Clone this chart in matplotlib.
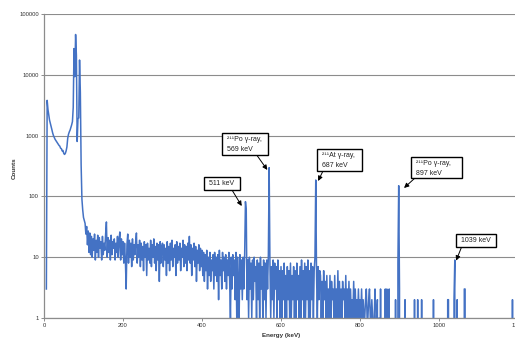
import numpy as np
import matplotlib
matplotlib.use("Agg")
import matplotlib.pyplot as plt
from matplotlib.patches import Rectangle
from matplotlib.transforms import offset_copy
from matplotlib.ticker import NullLocator

plt.rcParams['font.family'] = ['Liberation Sans', 'DejaVu Sans']

nan = np.nan
# ---- spectrum data (2 keV bins); 0 = empty bin ----
start_0, counts_0_98 = 0, [
    nan, nan, nan, 3, 3800, 2700, 2200, 1800, 1600, 1400,
    1250, 1100, 1000, 930, 870, 830, 790, 750, 720, 690,
    670, 620, 610, 560, 570, 510, 490, 510, 560, 650,
    900, 1050, 1150, 1230, 1350, 1500, 1700, 2900, 27000, 9300,
    46000, 21000, 800, 1900, 1950, 17500, 5200, 330, 90, 60]
start_100, counts_100_198 = 100, [
    45, 40, 36, 24, 32, 16, 27, 12, 25, 11,
    22, 10, 20, 13, 24, 9, 19, 12, 23, 10,
    21, 14, 18, 9, 22, 11, 17, 13, 24, 38,
    10, 21, 12, 19, 9, 23, 11, 18, 14, 20,
    9, 17, 12, 22, 10, 19, 26, 9, 20, 11]
start_200, counts_200_298 = 200, [
    18, 8, 17, 9, 3, 16, 24, 8, 19, 10,
    17, 7, 20, 9, 16, 11, 18, 25, 8, 16,
    10, 19, 7, 17, 9, 15, 6, 18, 10, 16,
    5, 17, 9, 14, 8, 19, 7, 16, 10, 20,
    8, 15, 6, 17, 9, 16, 4, 18, 8, 15]
start_300, counts_300_398 = 300, [
    17, 7, 16, 9, 14, 5, 18, 8, 15, 6,
    17, 9, 19, 7, 14, 10, 16, 5, 18, 8,
    15, 9, 17, 6, 14, 10, 19, 7, 16, 8,
    15, 6, 17, 9, 22, 8, 16, 5, 14, 9,
    17, 7, 15, 4, 13, 8, 16, 6, 14, 7]
start_400, counts_400_498 = 400, [
    13, 5, 12, 4, 11, 6, 13, 3, 10, 5,
    12, 4, 9, 6, 11, 3, 12, 5, 10, 4,
    11, 2, 13, 5, 9, 3, 12, 6, 10, 4,
    11, 3, 9, 5, 12, 4, 1, 10, 3, 11,
    5, 9, 2, 12, 1, 10, 4, 1, 11, 3]
start_500, counts_500_598 = 500, [
    9, 2, 10, 3, 11, 82, 60, 2, 9, 1,
    10, 3, 8, 1, 9, 2, 10, 4, 7, 1,
    9, 2, 8, 1, 10, 3, 7, 1, 9, 2,
    8, 1, 9, 3, 11, 297, 8, 1, 7, 2,
    9, 1, 8, 3, 7, 1, 9, 2, 6, 1]
start_600, counts_600_698 = 600, [
    7, 1, 6, 2, 8, 1, 5, 1, 7, 2,
    6, 1, 8, 1, 5, 2, 7, 1, 6, 1,
    8, 2, 5, 1, 7, 1, 9, 2, 6, 1,
    8, 1, 7, 2, 9, 1, 6, 1, 8, 2,
    7, 1, 6, 10, 186, 5, 1, 7, 2, 6]
start_700, counts_700_798 = 700, [
    5, 1, 4, 1, 6, 2, 4, 1, 5, 1,
    3, 1, 5, 1, 4, 2, 3, 1, 5, 1,
    3, 1, 6, 1, 4, 1, 3, 1, 4, 2,
    3, 1, 5, 1, 3, 1, 4, 1, 3, 1,
    2, 1, 4, 1, 3, 1, 2, 1, 3, 1]
start_800, counts_800_898 = 800, [
    2, 1, 3, 1, 2, 1, 1, 2, 3, 1,
    1, 2, 3, 1, 1, 2, 1, 0, 1, 3,
    0, 1, 2, 0, 1, 0, 3, 0, 0, 0,
    0, 0, 3, 0, 3, 0, 0, 3, 0, 0,
    0, 0, 0, 0, 0, 2, 0, 0, 8, 150]
start_900, counts_900_1198 = 900, [
    3, 0, 0, 0, 0, 0, 0, 2, 0, 0,
    0, 0, 0, 0, 0, 0, 0, 0, 0, 2,
    0, 0, 0, 2, 0, 0, 0, 0, 2, 0,
    0, 0, 0, 0, 0, 0, 0, 0, 0, 0,
    0, 0, 0, 2, 0, 0, 0, 0, 0, 0,
    0, 0, 0, 0, 0, 0, 0, 0, 0, 0,
    0, 2, 2, 0, 0, 0, 0, 0, 0, 2,
    9, 0, 0, 2, 0, 0, 0, 0, 0, 0,
    0, 0, 3, 3, 0, 0, 0, 0, 0, 0,
    0, 0, 0, 0, 0, 0, 0, 0, 0, 0,
    0, 0, 0, 0, 0, 0, 0, 0, 0, 0,
    0, 0, 0, 0, 0, 0, 0, 0, 0, 0,
    0, 0, 0, 0, 0, 0, 0, 0, 0, 0,
    0, 0, 0, 0, 0, 0, 0, 0, 0, 0,
    0, 0, 0, 2, 0, 0, 0, 0, 0, 0]
bin_width = 2

x_ticks = [0, 200, 400, 600, 800, 1000, 1200]
x_tick_labels = ["0", "200", "400", "600", "800", "1000", "1200"]
y_ticks = [1, 10, 100, 1000, 10000, 100000]
y_tick_labels = ["1", "10", "100", "1000", "10000", "100000"]

peak_energies = [510, 570, 688, 898, 1040]
peak_labels = ["511 keV", "\u00b2\u00b9\u00b9Po \u03b3-ray,\n569 keV",
               "\u00b2\u00b9\u00b9At \u03b3-ray,\n687 keV",
               "\u00b2\u00b9\u00b9Po \u03b3-ray,\n897 keV", "1039 keV"]

segments = [(start_0, counts_0_98), (start_100, counts_100_198),
            (start_200, counts_200_298), (start_300, counts_300_398),
            (start_400, counts_400_498), (start_500, counts_500_598),
            (start_600, counts_600_698), (start_700, counts_700_798),
            (start_800, counts_800_898), (start_900, counts_900_1198)]
energies = np.concatenate([s + bin_width * np.arange(len(v)) for s, v in segments])
counts = np.concatenate([np.asarray(v, float) for s, v in segments])

W, H = 515, 338
fig = plt.figure(figsize=(W / 100, H / 100), dpi=100)
fig.patch.set_facecolor('white')
ax = fig.add_axes([44 / W, 20 / H, 474 / W, 304 / H])

ax.plot(energies, counts, color='#4472C4', lw=1.1, zorder=2)
ax.set_yscale('log', nonpositive='clip')
ax.set_ylim(1, 100000)
ax.set_xlim(0, 1200)
ax.set_yticks(y_ticks)
ax.set_yticklabels(y_tick_labels)
ax.yaxis.set_minor_locator(NullLocator())
ax.set_xticks(x_ticks)
ax.set_xticklabels(x_tick_labels)

gray = '#8c8c8c'
ax.grid(axis='y', color=gray, lw=0.8)
ax.set_axisbelow(True)
for s in ['top', 'right']:
    ax.spines[s].set_visible(False)
for s in ['left', 'bottom']:
    ax.spines[s].set_color(gray)
    ax.spines[s].set_linewidth(0.9)
    ax.spines[s].set_zorder(3)
ax.tick_params(axis='both', direction='out', length=2.2, width=0.7, color=gray,
               labelsize=4.2, labelcolor='#333333', pad=1.5)

fig.text(14.5 / W, 1 - 168 / H, "Counts", rotation=90, ha='center', va='center',
         fontsize=4.5, fontweight='bold', color='#333333')
fig.text(281.5 / W, 1 - 335.5 / H, "Energy (keV)", ha='center', va='center',
         fontsize=4.5, fontweight='bold', color='#333333')

def fpx(x, y):
    return (x / W, 1 - y / H)

# annotation layout (pixel boxes, arrow starts, tip offsets)
boxes = [(204, 177, 240, 190), (222, 133, 268, 155), (316.7, 149, 362, 171),
         (411, 156.7, 462, 178), (456, 234, 495.7, 246.7)]
arrow_starts = [(232, 190), (256.7, 155), (323, 171), (415, 178), (461.7, 246.7)]
tip_offsets = [(-3.7, -4.4), (-1.8, -2.3), (2.3, -1.0), (5.3, -2.3), (1.3, -0.7)]

for E, label, box, st, off in zip(peak_energies, peak_labels, boxes, arrow_starts, tip_offsets):
    c = counts[np.argmin(np.abs(energies - E))]
    tr = offset_copy(ax.transData, fig=fig, x=off[0], y=off[1], units='dots')
    ax.annotate('', xy=(E, c), xycoords=tr, xytext=fpx(*st), textcoords='figure fraction',
                arrowprops=dict(arrowstyle='-|>,head_length=0.35,head_width=0.17',
                                color='black', lw=0.7, shrinkA=0, shrinkB=0,
                                mutation_scale=8), zorder=4)
    x0, y0, x1, y1 = box
    rect = Rectangle(fpx(x0, y1), (x1 - x0) / W, (y1 - y0) / H, transform=fig.transFigure,
                     facecolor='white', edgecolor='black', lw=1.0, zorder=5)
    fig.add_artist(rect)
    lines = label.split('\n')
    if len(lines) == 1:
        fig.text(*fpx((x0 + x1) / 2, (y0 + y1) / 2), label, ha='center', va='center',
                 fontsize=5, color='#222222', zorder=6)
    else:
        h = y1 - y0
        fig.text(*fpx(x0 + 5, y0 + 0.3 * h), lines[0], ha='left', va='center',
                 fontsize=5, color='#222222', zorder=6)
        fig.text(*fpx(x0 + 5, y0 + 0.77 * h), lines[1], ha='left', va='center',
                 fontsize=5, color='#222222', zorder=6)

fig.savefig("out.png", dpi=100)
